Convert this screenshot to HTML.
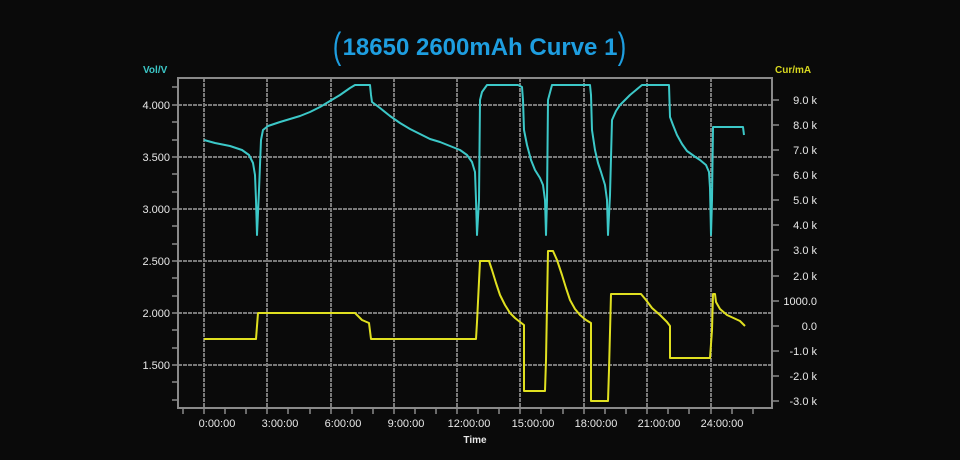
<!DOCTYPE html>
<html><head><meta charset="utf-8"><style>
body{margin:0;background:#0a0a0a;width:960px;height:460px;overflow:hidden}
svg{display:block}
text{font-family:"Liberation Sans",sans-serif}
</style></head><body>
<svg width="960" height="460" viewBox="0 0 960 460">
<rect width="960" height="460" fill="#0a0a0a"/>
<text x="480" y="55" text-anchor="middle" font-size="24" font-weight="bold" fill="#1e9ee0">18650 2600mAh Curve 1</text>
<text x="337" y="57" text-anchor="middle" font-size="32" fill="#1e9ee0" transform="translate(337,47) scale(0.8,1.15) translate(-337,-47)">(</text>
<text x="622" y="57" text-anchor="middle" font-size="32" fill="#1e9ee0" transform="translate(622,47) scale(0.8,1.15) translate(-622,-47)">)</text>
<text x="143" y="73" font-size="10" font-weight="bold" fill="#3cc8c8" font-family="Liberation Serif">Vol/V</text>
<text x="775" y="73" font-size="10" font-weight="bold" fill="#d8d820" font-family="Liberation Serif">Cur/mA</text>
<g stroke="#7a7a7a" stroke-width="2" stroke-dasharray="4 1">
<line x1="178" y1="105" x2="772" y2="105"/><line x1="178" y1="157" x2="772" y2="157"/>
<line x1="178" y1="209" x2="772" y2="209"/><line x1="178" y1="261" x2="772" y2="261"/>
<line x1="178" y1="313" x2="772" y2="313"/><line x1="178" y1="365" x2="772" y2="365"/>
<line x1="204" y1="78" x2="204" y2="408"/><line x1="267" y1="78" x2="267" y2="408"/>
<line x1="331" y1="78" x2="331" y2="408"/><line x1="394" y1="78" x2="394" y2="408"/>
<line x1="457" y1="78" x2="457" y2="408"/><line x1="520" y1="78" x2="520" y2="408"/>
<line x1="584" y1="78" x2="584" y2="408"/><line x1="647" y1="78" x2="647" y2="408"/>
<line x1="711" y1="78" x2="711" y2="408"/>
</g>
<rect x="178" y="78" width="594" height="330" fill="none" stroke="#8a8a8a" stroke-width="2"/>
<g stroke="#8a8a8a" stroke-width="1.5">
<path d="M172 87H178M172 105H178M172 122H178M172 140H178M172 157H178M172 174H178M172 192H178M172 209H178M172 226H178M172 244H178M172 261H178M172 278H178M172 296H178M172 313H178M172 330H178M172 348H178M172 365H178M172 382H178M172 400H178"/>
<path d="M183 408V414M204 408V414M225 408V414M246 408V414M267 408V414M288 408V414M310 408V414M331 408V414M352 408V414M373 408V414M394 408V414M415 408V414M436 408V414M457 408V414M478 408V414M499 408V414M520 408V414M541 408V414M563 408V414M584 408V414M605 408V414M626 408V414M647 408V414M668 408V414M689 408V414M711 408V414M732 408V414M753 408V414"/>
<path d="M772 100H779M772 125H779M772 150H779M772 175H779M772 200H779M772 225H779M772 250H779M772 276H779M772 301H779M772 326H779M772 351H779M772 376H779M772 401H779"/>
</g>
<g font-size="11" fill="#e8e8e8" text-anchor="end">
<text x="170" y="109">4.000</text><text x="170" y="161">3.500</text><text x="170" y="213">3.000</text>
<text x="170" y="265">2.500</text><text x="170" y="317">2.000</text><text x="170" y="369">1.500</text>
</g>
<g font-size="11" fill="#e8e8e8" text-anchor="end">
<text x="817" y="104">9.0 k</text><text x="817" y="129">8.0 k</text><text x="817" y="154">7.0 k</text>
<text x="817" y="179">6.0 k</text><text x="817" y="204">5.0 k</text><text x="817" y="229">4.0 k</text>
<text x="817" y="254">3.0 k</text><text x="817" y="280">2.0 k</text><text x="817" y="305">1000.0</text>
<text x="817" y="330">0.0</text><text x="817" y="355">-1.0 k</text><text x="817" y="380">-2.0 k</text>
<text x="817" y="405">-3.0 k</text>
</g>
<g font-size="11" fill="#e8e8e8" text-anchor="middle">
<text x="217" y="427">0:00:00</text><text x="280" y="427">3:00:00</text><text x="343" y="427">6:00:00</text>
<text x="406" y="427">9:00:00</text><text x="469" y="427">12:00:00</text><text x="533" y="427">15:00:00</text>
<text x="596" y="427">18:00:00</text><text x="659" y="427">21:00:00</text><text x="722" y="427">24:00:00</text>
</g>
<text x="475" y="443" text-anchor="middle" font-size="10" font-weight="bold" fill="#e8e8e8" font-family="Liberation Serif">Time</text>
<polyline fill="none" stroke="#3cc8c8" stroke-width="2" stroke-linejoin="round" points="204,140 215,143 230,146 242,150 249,155 253,163 255,175 256,200 257,235 259,190 261,140 263,130 268,126 280,122 290,119 300,116 310,112 320,107 330,101 340,95 350,88 355,85 370,85 371,95 372,102 380,108 390,116 400,123 410,129 420,134 430,139 440,142 450,146 460,150 467,155 472,162 475,172 476,200 477,235 479,200 480,100 482,92 487,85 518,85 522,87 523,100 524,130 527,145 531,160 535,170 540,178 543,185 545,200 546,235 547,200 548,100 552,85 590,85 591,95 592,130 595,150 598,163 601,172 605,185 607,200 608,235 610,195 612,120 616,111 620,105 630,95 642,85 669,85 670,117 673,125 677,135 682,144 687,151 694,156 700,160 706,165 709,172 710,188 711,235 712,200 713,127 743,127 744,135"/>
<polyline fill="none" stroke="#e0e020" stroke-width="2" stroke-linejoin="round" points="204,339 256,339 258,313 355,313 362,320 369,323 371,339 476,339 477,322 480,261 489,261 492,270 496,283 500,295 505,305 510,313 515,318 520,322 524,325 524,391 545,391 546,360 548,251 553,251 557,260 562,275 566,288 570,300 575,309 580,315 586,320 591,323 591,401 608,401 609,370 611,294 641,294 646,300 652,308 660,315 667,322 670,326 670,358 710,358 712,330 713,294 715,294 716,302 720,309 727,315 740,321 745,326"/>
</svg>
</body></html>
